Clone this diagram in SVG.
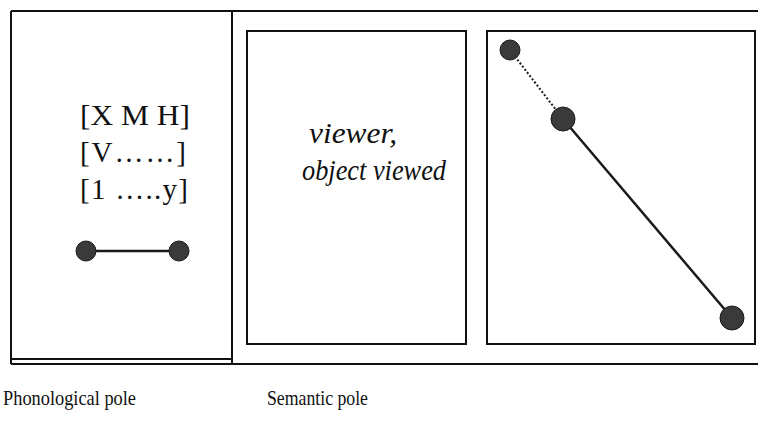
<svg xmlns="http://www.w3.org/2000/svg" width="758" height="437" viewBox="0 0 758 437">
  <style>
    .frame { fill: none; stroke: #111; stroke-width: 2; }
    .box { fill: none; stroke: #111; stroke-width: 2; }
    .dot { fill: #3a3a3a; stroke: #1a1a1a; stroke-width: 1; }
    .link { stroke: #1a1a1a; stroke-width: 2.5; fill: none; }
    .dotted { stroke: #1a1a1a; stroke-width: 2; stroke-dasharray: 2 2; fill: none; }
    .serif { font-family: "Liberation Serif", "Times New Roman", serif; fill: #111; }
    .big { font-size: 29px; }
    .cap { font-size: 21px; }
  </style>

  <!-- outer frame -->
  <g id="frame">
    <path class="frame" d="M11 11 H758 M11 11 V364 M11 364 H758 M11 359 H232 M232 11 V364"/>
  </g>

  <!-- phonological pole -->
  <g id="phonological">
    <text class="serif big" x="80" y="125" textLength="110" lengthAdjust="spacingAndGlyphs">[X M H]</text>
    <text class="serif big" x="80" y="162" textLength="106" lengthAdjust="spacing">[V……]</text>
    <text class="serif big" x="80" y="199" textLength="108" lengthAdjust="spacing">[1 …..y]</text>
  </g>

  <!-- semantic pole: participants -->
  <g id="participants">
    <rect class="box" x="247" y="31" width="219" height="313"/>
    <text class="serif big" x="309" y="143" font-style="italic" textLength="88" lengthAdjust="spacingAndGlyphs">viewer,</text>
    <text class="serif big" x="302" y="180" font-style="italic" textLength="144" lengthAdjust="spacingAndGlyphs">object viewed</text>
  </g>

  <!-- semantic pole: schematic path -->
  <g id="path-box">
    <rect class="box" x="487" y="31" width="268" height="313"/>
  </g>

  <!-- connectors -->
  <g id="connectors">
    <line class="link" x1="86" y1="251" x2="179" y2="251"/>
    <line class="dotted" x1="510" y1="50" x2="563" y2="119"/>
    <line class="link" x1="563" y1="119" x2="732" y2="318"/>
  </g>

  <g id="nodes">
    <circle class="dot" cx="86" cy="251" r="10"/>
    <circle class="dot" cx="179" cy="251" r="10"/>
    <circle class="dot" cx="510" cy="50" r="10"/>
    <circle class="dot" cx="563" cy="119" r="12"/>
    <circle class="dot" cx="732" cy="318" r="12"/>
  </g>

  <!-- captions -->
  <g id="captions">
    <text class="serif cap" x="3" y="405" textLength="133" lengthAdjust="spacingAndGlyphs">Phonological pole</text>
    <text class="serif cap" x="267" y="405" textLength="101" lengthAdjust="spacingAndGlyphs">Semantic pole</text>
  </g>
</svg>
